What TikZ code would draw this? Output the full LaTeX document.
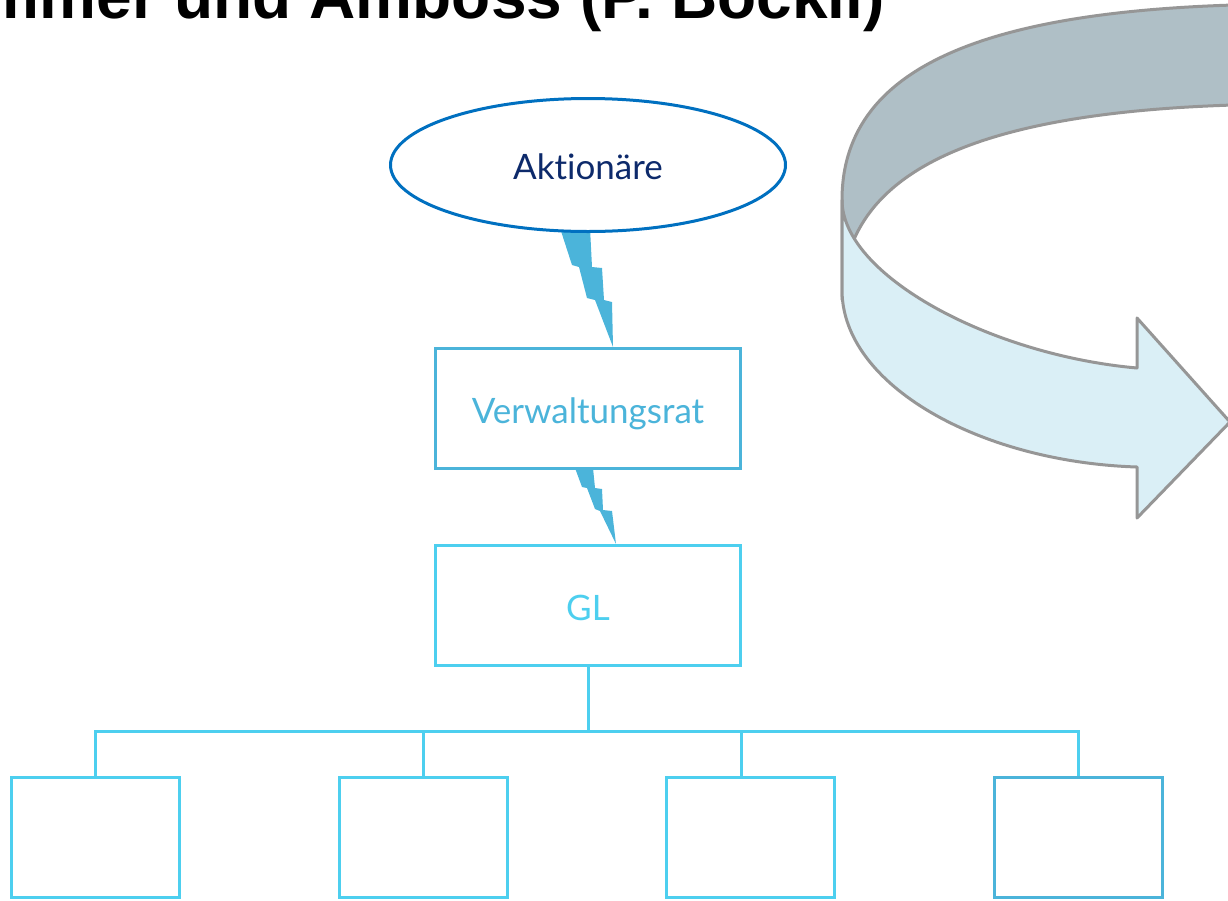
\documentclass[tikz,border=0pt]{standalone}
\usepackage{fontspec}
\setmainfont{Lato}[Ligatures={NoCommon,NoRare,NoDiscretionary}]
\newfontfamily\titlefont{Liberation Sans}
\usetikzlibrary{shapes.geometric}
\definecolor{ellblue}{HTML}{0070C0}
\definecolor{navy}{HTML}{0D2A6B}
\definecolor{midblue}{HTML}{4BB4DA}
\definecolor{cyanblue}{HTML}{4DCFEF}
\definecolor{ribline}{HTML}{969696}
\definecolor{ribgrey}{HTML}{AFBFC6}
\definecolor{ribfront}{HTML}{DAEFF6}
\tikzset{
  boxtext/.style={font=\fontsize{35}{42}\selectfont, text height=29pt, text depth=0pt},
  orgbox/.style={draw=cyanblue, line width=3pt, fill=white, rectangle, inner sep=0pt},
  vrbox/.style={orgbox, draw=midblue, text=midblue, boxtext, minimum width=305pt, minimum height=120pt},
  glbox/.style={orgbox, text=cyanblue, boxtext, minimum width=305pt, minimum height=120pt},
  leafbox/.style={orgbox, minimum width=168pt, minimum height=120pt},
  tree/.style={draw=cyanblue, line width=3pt},
  bolt/.style={fill=midblue, draw=none},
  ribbon/.style={draw=ribline, line width=3pt, line join=round}
}
\begin{document}
\begin{tikzpicture}[x=1pt,y=-1pt]
\useasboundingbox (0,0) rectangle (1228,900);
% title (cut by the page edge)
\node[anchor=base east, inner sep=0pt, font=\titlefont\bfseries\fontsize{64}{70}\selectfont] (title) at (885,18) {Hammer und Amboss (P. Böckli)};
% ribbon arrow
\path[ribbon, fill=ribgrey] (842,200) .. controls (842,60) and (1000,4) .. (1300,4) -- (1300,104) .. controls (1000,104) and (842,160) .. (842,300) -- cycle;
\path[ribbon, fill=ribfront] (842,200) .. controls (842,275) and (990,355) .. (1137,368) -- (1137,318) -- (1230,422) -- (1137,518) -- (1137,467) .. controls (980,462) and (842,385) .. (842,290) -- cycle;
% lightning bolts
\fill[bolt] (560,228) -- (572,265) -- (579,267) -- (587,298) -- (595,300) -- (613,347) -- (612,302) -- (604,300) -- (602,268) -- (592,267) -- (590,228) -- cycle;
\fill[bolt] (575,468) -- (582,487) -- (587,488) -- (595,509) -- (600,511) -- (616,544) -- (612,511) -- (603,510) -- (602,489) -- (595,488) -- (593,468) -- cycle;
% nodes
\node[ellipse, draw=ellblue, line width=3pt, fill=white, inner sep=0pt, minimum width=395pt, minimum height=133pt, text=navy, boxtext] (akt) at (588,165) {Aktionäre};
\node[vrbox] (vr) at (588,408.5) {Verwaltungsrat};
\node[glbox] (gl) at (588,605.5) {GL};
\node[leafbox] (b1) at (95.5,837.5) {};
\node[leafbox] (b2) at (423,837.5) {};
\node[leafbox] (b3) at (750.5,837.5) {};
\node[leafbox, draw=midblue] (b4) at (1078,837.5) {};
% tree connectors
\coordinate (bus) at (588,731);
\coordinate (t3) at (741,777.5);
\draw[tree] (gl.south) -- (bus);
\draw[tree] (bus) -| (b1.north);
\draw[tree] (bus) -| (b2.north);
\draw[tree] (bus) -| (t3);
\draw[tree] (bus) -| (b4.north);
\end{tikzpicture}
\end{document}
